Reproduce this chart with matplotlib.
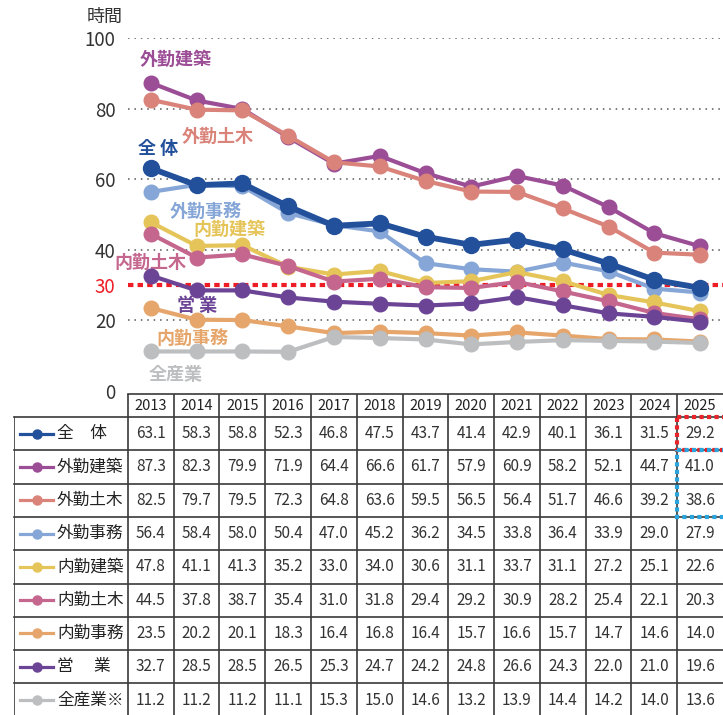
import matplotlib
matplotlib.use('Agg')
import matplotlib.pyplot as plt
from matplotlib.patches import Rectangle

plt.rcParams['font.family'] = ['Noto Sans CJK JP', 'DejaVu Sans']

years = ['2013', '2014', '2015', '2016', '2017', '2018', '2019',
         '2020', '2021', '2022', '2023', '2024', '2025']

zentai = [63.1, 58.3, 58.8, 52.3, 46.8, 47.5, 43.7, 41.4, 42.9, 40.1, 36.1, 31.5, 29.2]
gaikin_kenchiku = [87.3, 82.3, 79.9, 71.9, 64.4, 66.6, 61.7, 57.9, 60.9, 58.2, 52.1, 44.7, 41.0]
gaikin_doboku = [82.5, 79.7, 79.5, 72.3, 64.8, 63.6, 59.5, 56.5, 56.4, 51.7, 46.6, 39.2, 38.6]
gaikin_jimu = [56.4, 58.4, 58.0, 50.4, 47.0, 45.2, 36.2, 34.5, 33.8, 36.4, 33.9, 29.0, 27.9]
naikin_kenchiku = [47.8, 41.1, 41.3, 35.2, 33.0, 34.0, 30.6, 31.1, 33.7, 31.1, 27.2, 25.1, 22.6]
naikin_doboku = [44.5, 37.8, 38.7, 35.4, 31.0, 31.8, 29.4, 29.2, 30.9, 28.2, 25.4, 22.1, 20.3]
naikin_jimu = [23.5, 20.2, 20.1, 18.3, 16.4, 16.8, 16.4, 15.7, 16.6, 15.7, 14.7, 14.6, 14.0]
eigyo = [32.7, 28.5, 28.5, 26.5, 25.3, 24.7, 24.2, 24.8, 26.6, 24.3, 22.0, 21.0, 19.6]
zensangyo = [11.2, 11.2, 11.2, 11.1, 15.3, 15.0, 14.6, 13.2, 13.9, 14.4, 14.2, 14.0, 13.6]

# table label, chart label, colour, values, zorder
series = [
    ('全　体', '全 体', '#23509b', zentai, 10),
    ('外勤建築', '外勤建築', '#9b4d96', gaikin_kenchiku, 3),
    ('外勤土木', '外勤土木', '#d9837a', gaikin_doboku, 4),
    ('外勤事務', '外勤事務', '#85a6d6', gaikin_jimu, 5),
    ('内勤建築', '内勤建築', '#e5c55a', naikin_kenchiku, 6),
    ('内勤土木', '内勤土木', '#c4668d', naikin_doboku, 7),
    ('内勤事務', '内勤事務', '#e6a66b', naikin_jimu, 8),
    ('営　 業', '営 業', '#6b4496', eigyo, 9),
    ('全産業※', '全産業', '#bdbec0', zensangyo, 8.5),
]

# chart label positions (index, value)
label_pos = [(0.15, 68.8), (0.55, 93.8), (1.46, 72.2), (1.2, 51.0), (1.72, 45.9),
             (-0.02, 36.3), (0.9, 15.0), (1.0, 24.1), (0.55, 4.8)]

W, H = 723, 715
fig = plt.figure(figsize=(W / 100, H / 100), dpi=100)

# main chart
ax = fig.add_axes([128 / W, (H - 391) / H, (W - 128) / W, (391 - 38) / H])
x = list(range(len(years)))
for (tl, cl, col, vals, z), (lx, ly) in zip(series, label_pos):
    lw = 4.2 if vals is zentai else 3.0
    ms = 11.5 if vals is zentai else 10.5
    ax.plot(x, vals, color=col, lw=lw, marker='o', ms=ms, zorder=z, clip_on=False)
    ax.text(lx, ly, cl, color=col, fontsize=13, fontweight='bold',
            ha='center', va='center')

for g in [20, 40, 60, 80, 100]:
    ax.axhline(g, color='#555555', lw=1.1, linestyle=(0, (1, 3.2)), zorder=1)
ax.axhline(30, color='#ee1c25', lw=3, linestyle=(0, (1.3, 1.0)), zorder=2)

ax.set_xlim(-0.5, 12.5)
ax.set_ylim(0, 100)
ax.set_xticks([])
ax.set_yticks([0, 20, 30, 40, 60, 80, 100])
ax.set_yticklabels(['0', '20', '30', '40', '60', '80', '100'])
ax.tick_params(axis='y', length=0, pad=9, labelsize=13.5, labelcolor='#333333')
ax.get_yticklabels()[2].set_color('#ee1c25')
for s in ax.spines.values():
    s.set_visible(False)
fig.text(105 / W, 1 - 17 / H, '時間', fontsize=13, color='#333333',
         ha='center', va='center')

# data table
left_col = -0.5 - (128 - 14) / 45.83
row_h = 33.3
head_h = (417 - 394) / row_h
tb = fig.add_axes([14 / W, 0, (W - 14) / W, (H - 394) / H])
tb.set_xlim(left_col, 12.5)
tb.set_ylim((H - 417) / row_h, -head_h)
tb.axis('off')

lc = '#3a3a3a'
nrows = len(series)
tb.plot([-0.5, 13], [-head_h, -head_h], color=lc, lw=1.2, clip_on=False)
for r in range(nrows + 1):
    tb.plot([left_col, 13], [r, r], color=lc, lw=1.2, clip_on=False)
tb.plot([left_col, left_col], [0, nrows], color=lc, lw=1.2)
for c in range(len(years)):
    tb.plot([c - 0.5, c - 0.5], [-head_h, nrows], color=lc, lw=1.2)
    tb.text(c, -head_h / 2, years[c], fontsize=10.5, color='#222222',
            ha='center', va='center')

for r, (tl, cl, col, vals, z) in enumerate(series):
    yc = r + 0.5
    tb.plot([left_col + 0.13, left_col + 0.85], [yc, yc], color=col, lw=2.3)
    tb.plot([left_col + 0.5], [yc], color=col, marker='o', ms=6.5)
    tb.text(left_col + 0.94, yc, tl, fontsize=12, color='#222222',
            ha='left', va='center')
    for c, v in enumerate(vals):
        tb.text(c, yc, f'{v:.1f}', fontsize=11, color='#333333',
                ha='center', va='center')

tb.add_patch(Rectangle((11.5, 0), 1.2, 1, fill=False, ec='#e8232a', lw=3,
                       linestyle=(0, (1, 0.8)), zorder=5, clip_on=False))
tb.add_patch(Rectangle((11.5, 1), 1.2, 2, fill=False, ec='#2aa4dc', lw=3,
                       linestyle=(0, (1, 0.8)), zorder=5, clip_on=False))

fig.savefig('out.png', dpi=100)
